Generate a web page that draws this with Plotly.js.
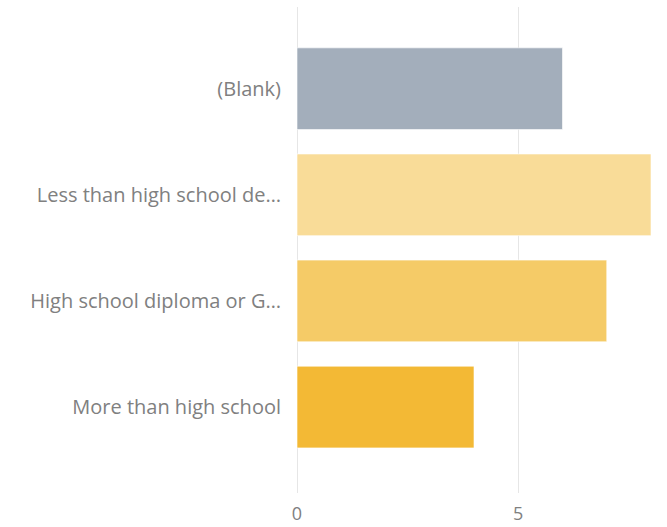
<!DOCTYPE html>
<html>
<head>
<meta charset="utf-8">
<script src="https://cdn.plot.ly/plotly-3.0.1.min.js"></script>
<style>html,body{margin:0;padding:0;background:#fff;}#chart{width:667px;height:527px;}</style>
</head>
<body>
<div id="chart"></div>
<script>
const categories = ["(Blank)", "Less than high school de…", "High school diploma or G…", "More than high school"];
const values = [6, 8, 7, 4];
const colors = ["#A3AEBB", "#F9DC98", "#F5CB67", "#F3B935"];
const xTicks = [0, 5];

const trace = {
  type: "bar",
  orientation: "h",
  x: values,
  y: categories,
  width: 0.77,
  marker: {color: colors, line: {color: "rgba(255,255,255,0.6)", width: 1}},
  hoverinfo: "x+y"
};

const layout = {
  width: 667, height: 527,
  margin: {l: 297, r: 16, t: 7, b: 34},
  paper_bgcolor: "#fff", plot_bgcolor: "#fff",
  showlegend: false,
  font: {family: "'Open Sans', 'Noto Sans', sans-serif", color: "#808080", size: 19},
  xaxis: {
    range: [0, 8], tickvals: xTicks, ticktext: xTicks.map(String),
    showgrid: true, gridcolor: "#e6e6e6", gridwidth: 1,
    zeroline: true, zerolinecolor: "#e6e6e6", zerolinewidth: 1,
    showline: false, ticks: "", ticklabelstandoff: 8,
    tickfont: {size: 18, color: "#808080"}, fixedrange: true
  },
  yaxis: {
    type: "category", categoryorder: "array", categoryarray: categories,
    range: [3.81, -0.77], showgrid: false, zeroline: false, showline: false,
    ticks: "", ticklabelstandoff: 15,
    tickfont: {size: 20, color: "#808080"}, fixedrange: true
  },
  bargap: 0.23
};

Plotly.newPlot("chart", [trace], layout, {displayModeBar: false, staticPlot: true});
</script>
</body>
</html>
